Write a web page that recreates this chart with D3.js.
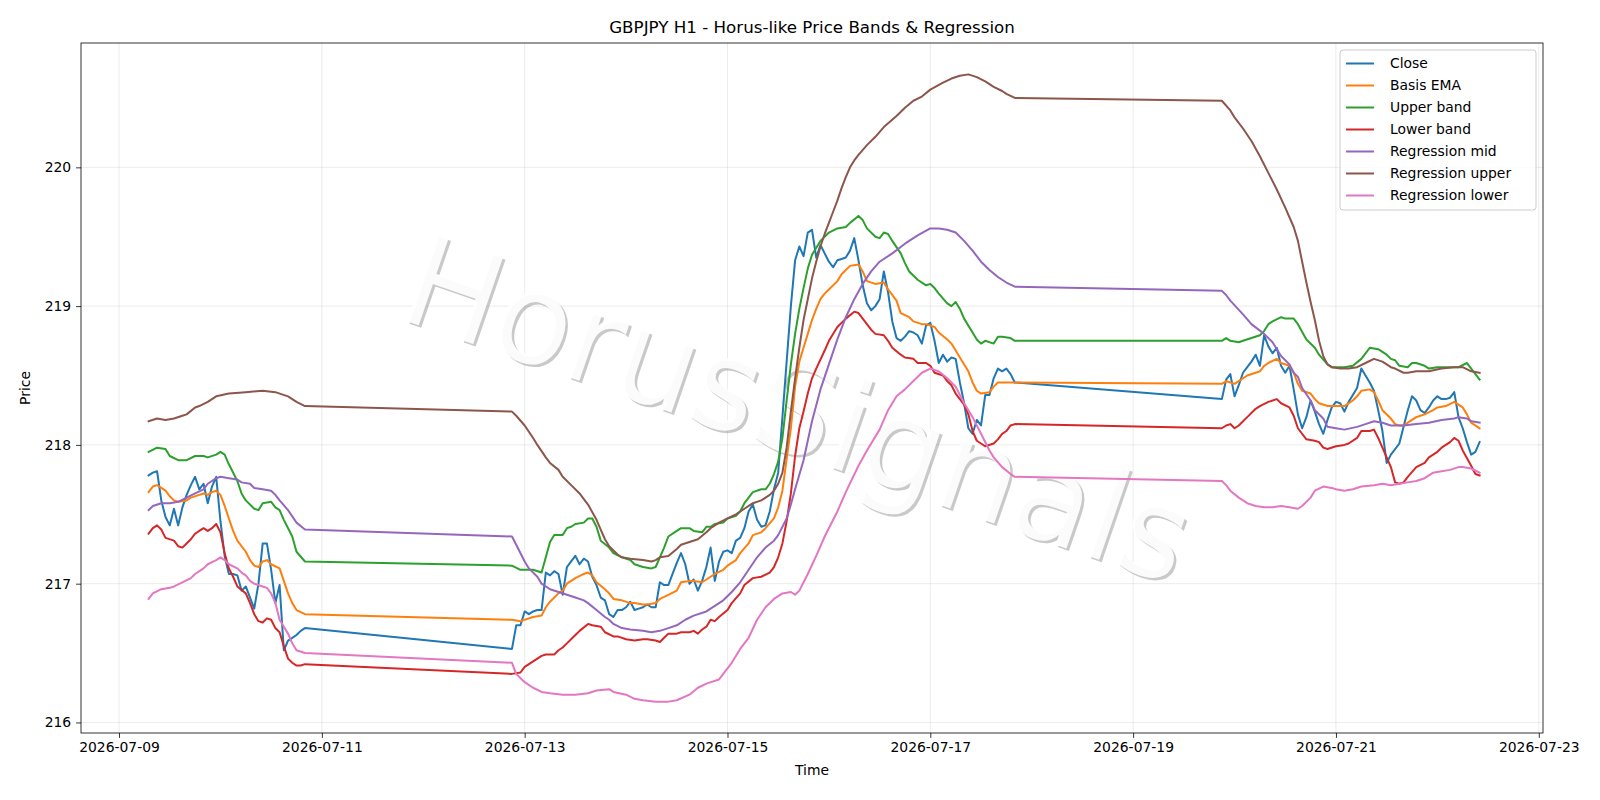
<!DOCTYPE html>
<html>
<head>
<meta charset="utf-8">
<script src="https://cdn.jsdelivr.net/npm/d3@7"></script>
<style>
body { margin: 0; background: #fff; }
svg { display: block; font-family: "DejaVu Sans", sans-serif; }
</style>
</head>
<body>
<svg width="1600" height="800"></svg>
<script>
var WIDTH = 1600;
var HEIGHT = 800;
var margin = {left: 81, right: 57, top: 43, bottom: 67};

// hours are counted from 2026-07-09 00:00
var baseDay = new Date(2026, 6, 9);

var closeStart = [7, 93, 261];
var closeSegs = [
    [217.78, 217.80, 217.81, 217.60, 217.48, 217.42, 217.54, 217.42, 217.55, 217.64,
     217.71, 217.77, 217.68, 217.72, 217.58, 217.70, 217.77, 217.45, 217.20, 217.07,
     217.07, 217.06, 216.95, 216.98, 216.90, 216.82, 217.00, 217.29, 217.29, 217.10,
     216.86, 216.99, 216.52, 216.59, 216.61, 216.63, 216.66, 216.68],
    [216.53, 216.70, 216.70, 216.80, 216.78, 216.80, 216.81, 216.81, 217.08, 217.06,
     217.09, 217.07, 216.92, 217.12, 217.16, 217.20, 217.14, 217.18, 217.16, 217.05,
     216.99, 216.90, 216.88, 216.78, 216.76, 216.81, 216.81, 216.83, 216.87, 216.81,
     216.82, 216.83, 216.85, 216.83, 216.83, 217.01, 216.99, 216.99, 217.07, 217.15,
     217.22, 217.14, 217.00, 217.03, 216.95, 217.02, 217.12, 217.26, 217.02, 217.16,
     217.23, 217.24, 217.22, 217.31, 217.33, 217.40, 217.52, 217.57, 217.46, 217.41,
     217.42, 217.52, 217.68, 217.80, 218.20, 218.60, 219.00, 219.33, 219.43, 219.36,
     219.53, 219.55, 219.35, 219.44, 219.38, 219.32, 219.28, 219.33, 219.34, 219.35,
     219.40, 219.49, 219.33, 219.15, 219.02, 218.97, 219.00, 219.05, 219.25, 219.10,
     218.89, 218.77, 218.75, 218.78, 218.82, 218.81, 218.79, 218.73, 218.86, 218.88,
     218.75, 218.59, 218.65, 218.60, 218.63, 218.62, 218.45, 218.30, 218.12, 218.08,
     218.18, 218.14, 218.36, 218.36, 218.48, 218.55, 218.53, 218.55, 218.51, 218.45],
    [218.33, 218.47, 218.51, 218.35, 218.43, 218.52, 218.56, 218.60, 218.65, 218.57,
     218.79, 218.71, 218.66, 218.70, 218.57, 218.52, 218.57, 218.40, 218.22, 218.12,
     218.20, 218.32, 218.24, 218.15, 218.08, 218.18, 218.27, 218.31, 218.30, 218.24,
     218.31, 218.36, 218.41, 218.55, 218.50, 218.45, 218.39, 218.25, 218.10, 217.87,
     217.93, 217.97, 218.01, 218.13, 218.25, 218.35, 218.32, 218.25, 218.23, 218.27,
     218.32, 218.35, 218.33, 218.33, 218.34, 218.38, 218.20, 218.12, 218.02, 217.93,
     217.95, 218.02]
];

var basisEma = [
    [7,217.66],[8,217.70],[9,217.71],[11,217.67],[12,217.63],[13,217.60],[14,217.59],[16,217.60],
    [17,217.62],[19,217.64],[20,217.65],[21,217.64],[22,217.66],[23,217.67],[24,217.64],[25,217.56],
    [26,217.47],[27,217.38],[28,217.31],[30,217.23],[31,217.17],[32,217.13],[33,217.12],[34,217.16],
    [35,217.17],[36,217.14],[38,217.11],[39,217.02],[40,216.93],[41,216.86],[42,216.81],[44,216.78],
    [93,216.74],[95,216.73],[98,216.76],[100,216.77],[101,216.83],[102,216.87],[104,216.93],[105,216.95],
    [106,217.00],[108,217.04],[110,217.07],[111,217.08],[112,217.06],[113,217.01],[115,216.96],[116,216.93],
    [117,216.89],[119,216.88],[121,216.86],[122,216.86],[124,216.85],[125,216.85],[127,216.86],[128,216.89],
    [130,216.92],[132,216.95],[133,217.01],[135,217.02],[136,217.02],[138,217.01],[140,217.05],[141,217.07],
    [143,217.10],[144,217.13],[146,217.17],[147,217.22],[149,217.29],[150,217.35],[152,217.37],[153,217.40],
    [155,217.47],[156,217.55],[157,217.67],[158,217.90],[159,218.12],[160,218.42],[161,218.60],[162,218.70],
    [163,218.80],[164,218.90],[165,218.98],[166,219.05],[167,219.09],[168,219.12],[170,219.18],[171,219.23],
    [173,219.29],[175,219.30],[176,219.25],[177,219.18],[179,219.16],[181,219.17],[182,219.12],[184,219.04],
    [185,218.95],[187,218.92],[188,218.89],[190,218.87],[191,218.87],[193,218.85],[194,218.81],[196,218.76],
    [197,218.73],[199,218.63],[201,218.53],[202,218.45],[203,218.39],[204,218.37],[206,218.38],[207,218.42],
    [208,218.45],[210,218.45],[212,218.45],
    [261,218.44],[262,218.46],[263,218.45],[264,218.44],[265,218.46],[267,218.50],[269,218.52],[270,218.53],
    [271,218.57],[272,218.59],[274,218.62],[275,218.59],[277,218.57],[278,218.52],[279,218.44],[280,218.39],
    [282,218.37],[283,218.33],[284,218.30],[286,218.28],[289,218.28],[290,218.28],[292,218.32],[293,218.35],
    [294,218.39],[296,218.40],[297,218.38],[298,218.32],[299,218.25],[301,218.19],[302,218.15],[303,218.14],
    [304,218.14],[305,218.16],[307,218.20],[308,218.21],[309,218.22],[311,218.25],[312,218.27],[314,218.28],
    [316,218.31],[317,218.29],[318,218.27],[319,218.22],[320,218.16],[322,218.12]
];

var upperBand = [
    [7,217.95],[9,217.98],[11,217.97],[12,217.92],[14,217.89],[16,217.89],[18,217.92],[20,217.92],
    [21,217.91],[23,217.93],[24,217.95],[25,217.93],[26,217.86],[28,217.74],[29,217.65],[30,217.60],
    [32,217.54],[33,217.53],[34,217.58],[36,217.59],[37,217.55],[38,217.53],[39,217.46],[41,217.34],
    [42,217.23],[44,217.16],
    [93,217.13],[95,217.10],[98,217.10],[100,217.08],[101,217.19],[102,217.30],[103,217.35],[105,217.35],
    [106,217.40],[107,217.41],[108,217.43],[110,217.44],[111,217.47],[112,217.47],[113,217.41],[114,217.31],
    [116,217.26],[117,217.22],[119,217.19],[121,217.17],[122,217.14],[124,217.12],[126,217.11],[127,217.12],
    [128,217.19],[129,217.26],[130,217.34],[132,217.38],[133,217.40],[135,217.40],[136,217.38],[138,217.37],
    [139,217.41],[140,217.41],[141,217.43],[143,217.44],[144,217.47],[146,217.49],[147,217.52],[148,217.58],
    [150,217.66],[152,217.68],[153,217.68],[154,217.72],[155,217.79],[156,217.88],[157,218.05],[158,218.32],
    [159,218.58],[160,218.80],[161,218.98],[162,219.13],[163,219.27],[164,219.37],[166,219.47],[168,219.53],
    [170,219.56],[172,219.57],[173,219.60],[175,219.65],[176,219.62],[177,219.56],[179,219.50],[180,219.49],
    [181,219.53],[182,219.52],[183,219.47],[185,219.38],[186,219.31],[187,219.25],[189,219.19],[191,219.15],
    [192,219.16],[193,219.13],[194,219.09],[196,219.02],[197,219.00],[198,219.03],[199,218.98],[200,218.91],
    [202,218.81],[203,218.76],[204,218.73],[205,218.75],[207,218.73],[208,218.78],[209,218.78],[211,218.77],
    [212,218.75],
    [261,218.75],[262,218.77],[263,218.75],[265,218.74],[266,218.75],[268,218.77],[270,218.79],[271,218.82],
    [272,218.87],[273,218.89],[275,218.92],[276,218.91],[278,218.91],[279,218.87],[281,218.76],[283,218.70],
    [284,218.65],[286,218.58],[287,218.56],[290,218.56],[292,218.57],[294,218.62],[295,218.66],[296,218.70],
    [298,218.69],[300,218.65],[301,218.62],[302,218.61],[303,218.57],[305,218.56],[306,218.59],[307,218.59],
    [309,218.57],[310,218.55],[312,218.56],[314,218.56],[317,218.56],[319,218.59],[320,218.55],[322,218.47]
];

var lowerBand = [
    [7,217.36],[8,217.40],[9,217.42],[10,217.39],[11,217.33],[13,217.31],[14,217.27],[15,217.26],
    [16,217.29],[17,217.32],[18,217.36],[19,217.38],[20,217.40],[21,217.38],[22,217.40],[23,217.43],
    [24,217.37],[25,217.22],[26,217.11],[27,217.05],[28,216.98],[30,216.93],[31,216.86],[32,216.78],
    [33,216.73],[34,216.72],[35,216.75],[36,216.74],[37,216.68],[38,216.65],[39,216.55],[40,216.46],
    [41,216.43],[42,216.41],[43,216.41],[44,216.42],
    [93,216.35],[95,216.36],[96,216.40],[98,216.44],[100,216.48],[101,216.49],[103,216.49],[104,216.52],
    [105,216.54],[106,216.57],[108,216.63],[109,216.66],[111,216.71],[112,216.70],[114,216.69],[115,216.65],
    [117,216.62],[118,216.62],[120,216.60],[122,216.59],[124,216.60],[125,216.60],[127,216.59],[128,216.58],
    [129,216.61],[130,216.64],[132,216.64],[133,216.65],[135,216.65],[136,216.66],[137,216.64],[138,216.67],
    [139,216.69],[140,216.74],[141,216.73],[142,216.76],[144,216.81],[145,216.86],[147,216.93],[148,216.99],
    [150,217.04],[152,217.05],[154,217.08],[155,217.12],[156,217.19],[157,217.29],[158,217.45],[159,217.65],
    [160,217.92],[161,218.12],[162,218.24],[163,218.37],[164,218.48],[165,218.55],[167,218.68],[168,218.75],
    [170,218.85],[172,218.91],[174,218.96],[175,218.95],[176,218.91],[178,218.83],[179,218.80],[181,218.79],
    [182,218.75],[183,218.70],[185,218.65],[186,218.63],[188,218.62],[189,218.59],[191,218.59],[192,218.57],
    [193,218.52],[195,218.50],[196,218.46],[197,218.43],[198,218.37],[200,218.29],[201,218.22],[202,218.10],
    [203,218.03],[204,218.01],[205,217.99],[207,218.01],[208,218.04],[209,218.08],[210,218.10],[211,218.14],
    [212,218.15],
    [261,218.12],[262,218.14],[263,218.15],[264,218.12],[265,218.14],[267,218.20],[269,218.26],[270,218.28],
    [272,218.31],[274,218.33],[275,218.30],[277,218.27],[278,218.21],[279,218.12],[281,218.04],[283,218.03],
    [284,218.02],[285,217.98],[286,217.97],[288,217.99],[290,218.00],[291,218.01],[293,218.05],[294,218.10],
    [296,218.10],[297,218.11],[298,218.05],[299,217.98],[301,217.84],[302,217.73],[303,217.72],[304,217.73],
    [305,217.77],[307,217.84],[309,217.87],[310,217.91],[312,217.95],[313,217.98],[315,218.02],[316,218.05],
    [317,218.03],[318,217.96],[320,217.85],[321,217.79],[322,217.78]
];

var regMid = [
    [7,217.53],[8,217.56],[10,217.58],[12,217.58],[14,217.59],[16,217.62],[18,217.65],[20,217.68],
    [21,217.72],[23,217.76],[24,217.77],[26,217.76],[28,217.75],[29,217.73],[31,217.72],[32,217.69],
    [34,217.68],[36,217.67],[37,217.64],[38,217.60],[40,217.53],[42,217.44],[44,217.39],
    [93,217.34],[94,217.28],[96,217.16],[97,217.11],[99,217.05],[100,217.00],[102,216.96],[104,216.94],
    [106,216.92],[108,216.90],[110,216.88],[111,216.86],[113,216.81],[115,216.76],[116,216.74],[117,216.71],
    [119,216.68],[121,216.67],[124,216.66],[126,216.65],[128,216.66],[130,216.68],[132,216.70],[134,216.74],
    [136,216.77],[139,216.80],[141,216.84],[143,216.88],[145,216.94],[147,217.01],[149,217.10],[151,217.19],
    [153,217.26],[155,217.31],[156,217.35],[158,217.47],[159,217.57],[160,217.68],[162,217.89],[164,218.17],
    [166,218.40],[168,218.58],[170,218.76],[172,218.92],[174,219.05],[176,219.16],[178,219.25],[180,219.32],
    [183,219.38],[186,219.45],[189,219.51],[192,219.56],[194,219.56],[196,219.55],[198,219.53],[200,219.47],
    [202,219.40],[204,219.32],[206,219.26],[208,219.21],[210,219.17],[212,219.14],
    [261,219.11],[262,219.08],[263,219.04],[266,218.94],[268,218.87],[271,218.80],[273,218.74],[275,218.64],
    [277,218.58],[278,218.52],[279,218.49],[280,218.41],[282,218.32],[283,218.25],[285,218.19],[286,218.13],
    [288,218.12],[290,218.11],[293,218.13],[295,218.15],[297,218.17],[299,218.16],[301,218.14],[304,218.14],
    [307,218.15],[310,218.16],[313,218.18],[316,218.19],[317,218.20],[319,218.19],[320,218.17],[322,218.16]
];

var regUpper = [
    [7,218.17],[9,218.19],[11,218.18],[13,218.19],[15,218.21],[16,218.22],[18,218.27],[19,218.28],
    [21,218.31],[23,218.35],[26,218.37],[30,218.38],[34,218.39],[37,218.38],[40,218.35],[42,218.31],
    [44,218.28],
    [93,218.24],[94,218.21],[96,218.14],[98,218.05],[99,218.00],[101,217.91],[102,217.87],[104,217.82],
    [105,217.77],[107,217.71],[109,217.65],[110,217.61],[111,217.57],[113,217.46],[114,217.39],[115,217.32],
    [116,217.27],[118,217.21],[119,217.19],[121,217.18],[124,217.17],[126,217.16],[127,217.17],[128,217.19],
    [130,217.20],[132,217.25],[133,217.28],[135,217.30],[137,217.32],[139,217.37],[140,217.40],[142,217.44],
    [144,217.47],[146,217.50],[148,217.54],[150,217.58],[152,217.60],[154,217.64],[155,217.67],[156,217.72],
    [157,217.80],[158,217.98],[159,218.24],[160,218.48],[161,218.70],[162,218.90],[163,219.05],[164,219.20],
    [165,219.32],[166,219.43],[167,219.52],[168,219.60],[169,219.68],[170,219.76],[171,219.85],[172,219.93],
    [173,220.00],[174,220.05],[175,220.09],[177,220.16],[179,220.22],[181,220.29],[184,220.37],[186,220.43],
    [188,220.48],[190,220.51],[192,220.56],[195,220.61],[197,220.64],[199,220.66],[201,220.67],[203,220.65],
    [205,220.62],[207,220.58],[209,220.55],[210,220.53],[212,220.50],
    [261,220.48],[263,220.41],[264,220.36],[266,220.28],[268,220.19],[270,220.08],[272,219.96],[274,219.84],
    [276,219.71],[278,219.57],[279,219.47],[280,219.32],[281,219.17],[282,219.03],[283,218.90],[284,218.75],
    [285,218.64],[286,218.58],[287,218.56],[289,218.55],[291,218.55],[293,218.56],[295,218.59],[297,218.62],
    [299,218.60],[301,218.56],[302,218.55],[304,218.52],[305,218.52],[307,218.53],[310,218.53],[313,218.55],
    [316,218.56],[318,218.56],[320,218.53],[322,218.52]
];

var regLower = [
    [7,216.89],[8,216.93],[10,216.96],[12,216.97],[13,216.98],[15,217.01],[17,217.04],[18,217.07],
    [20,217.11],[21,217.14],[23,217.17],[24,217.19],[25,217.17],[26,217.14],[28,217.11],[29,217.08],
    [30,217.06],[31,217.02],[32,217.00],[34,216.98],[35,216.97],[36,216.93],[37,216.86],[38,216.74],
    [40,216.64],[41,216.57],[42,216.52],[44,216.50],
    [93,216.43],[94,216.35],[96,216.29],[98,216.25],[100,216.22],[102,216.21],[105,216.20],[108,216.20],
    [111,216.21],[113,216.23],[116,216.24],[117,216.22],[120,216.20],[122,216.17],[124,216.16],[127,216.15],
    [130,216.15],[132,216.16],[135,216.20],[137,216.25],[139,216.28],[142,216.31],[143,216.35],[145,216.43],
    [147,216.53],[149,216.61],[151,216.74],[153,216.83],[155,216.89],[157,216.93],[159,216.94],[160,216.92],
    [161,216.95],[163,217.07],[165,217.20],[167,217.34],[170,217.52],[172,217.66],[175,217.85],[177,217.96],
    [180,218.11],[182,218.25],[184,218.35],[186,218.40],[188,218.46],[190,218.52],[192,218.55],[194,218.53],
    [196,218.48],[198,218.42],[200,218.30],[202,218.20],[204,218.08],[206,217.96],[207,217.91],[209,217.84],
    [211,217.79],[212,217.77],
    [261,217.74],[262,217.71],[263,217.67],[265,217.62],[267,217.58],[269,217.56],[271,217.55],[273,217.55],
    [275,217.56],[277,217.55],[279,217.54],[280,217.56],[282,217.62],[283,217.67],[285,217.70],[287,217.69],
    [288,217.68],[290,217.67],[292,217.68],[294,217.70],[297,217.71],[299,217.72],[301,217.71],[303,217.72],
    [305,217.73],[307,217.74],[309,217.76],[311,217.80],[313,217.81],[315,217.82],[317,217.84],[318,217.84],
    [320,217.83],[322,217.80]
];

var seriesNames = ['Close', 'Basis EMA', 'Upper band', 'Lower band', 'Regression mid', 'Regression upper', 'Regression lower'];
var seriesColors = ['#1f77b4', '#ff7f0e', '#2ca02c', '#d62728', '#9467bd', '#8c564b', '#e377c2'];
var xTickLabels = ['2026-07-09', '2026-07-11', '2026-07-13', '2026-07-15', '2026-07-17', '2026-07-19', '2026-07-21', '2026-07-23'];
var yTickValues = [216, 217, 218, 219, 220];

var toDate = function(h) {
    return d3.timeHour.offset(baseDay, h);
};

var closePts = [];
closeSegs.forEach(function(seg, s) {
    seg.forEach(function(v, i) {
        closePts.push([closeStart[s] + i, v]);
    });
});

var allSeries = [closePts, basisEma, upperBand, lowerBand, regMid, regUpper, regLower];

var svg = d3.select('svg');
var x0 = margin.left, x1 = WIDTH - margin.right;
var y0 = margin.top, y1 = HEIGHT - margin.bottom;

// matplotlib style 5% padding on both axes
var tExt = d3.extent(closePts, function(d) { return d[0]; });
var tPad = (tExt[1] - tExt[0]) * 0.05;
var xScale = d3.scaleTime()
    .domain([toDate(tExt[0] - tPad), toDate(tExt[1] + tPad)])
    .range([x0, x1]);

var allVals = [];
allSeries.forEach(function(s) { s.forEach(function(d) { allVals.push(d[1]); }); });
var vExt = d3.extent(allVals);
var vPad = (vExt[1] - vExt[0]) * 0.05;
var yScale = d3.scaleLinear()
    .domain([vExt[0] - vPad, vExt[1] + vPad])
    .range([y1, y0]);

var parseDay = d3.timeParse('%Y-%m-%d');
var xTicks = xTickLabels.map(parseDay);

// grid
var grid = svg.append('g');
grid.selectAll('.gx').data(xTicks).enter().append('line')
    .attr('x1', function(d) { return xScale(d); })
    .attr('x2', function(d) { return xScale(d); })
    .attr('y1', y0).attr('y2', y1)
    .attr('stroke', '#b0b0b0').attr('stroke-opacity', 0.3).attr('stroke-width', 0.8);
grid.selectAll('.gy').data(yTickValues).enter().append('line')
    .attr('x1', x0).attr('x2', x1)
    .attr('y1', function(d) { return yScale(d); })
    .attr('y2', function(d) { return yScale(d); })
    .attr('stroke', '#b0b0b0').attr('stroke-opacity', 0.3).attr('stroke-width', 0.8);

// watermark: white text over a soft grey drop shadow
var wmX = 798, wmY = 410, wmAngle = 19, wmSize = 126;
svg.append('text')
    .attr('transform', 'translate(' + (wmX + 2.5) + ',' + (wmY + 2.5) + ') rotate(' + wmAngle + ')')
    .attr('text-anchor', 'middle').attr('dominant-baseline', 'central')
    .attr('font-size', wmSize).attr('fill', '#888').attr('fill-opacity', 0.45)
    .text('HorusSignals');
svg.append('text')
    .attr('transform', 'translate(' + wmX + ',' + wmY + ') rotate(' + wmAngle + ')')
    .attr('text-anchor', 'middle').attr('dominant-baseline', 'central')
    .attr('font-size', wmSize).attr('fill', '#fff').attr('fill-opacity', 0.93)
    .text('HorusSignals');

svg.append('clipPath').attr('id', 'plotclip')
    .append('rect').attr('x', x0).attr('y', y0).attr('width', x1 - x0).attr('height', y1 - y0);

var line = d3.line()
    .x(function(d) { return xScale(toDate(d[0])); })
    .y(function(d) { return yScale(d[1]); });

svg.append('g').attr('clip-path', 'url(#plotclip)')
    .selectAll('path').data(allSeries).enter().append('path')
    .attr('d', line)
    .attr('fill', 'none')
    .attr('stroke', function(d, i) { return seriesColors[i]; })
    .attr('stroke-width', 2)
    .attr('stroke-linejoin', 'round')
    .attr('stroke-linecap', 'square');

// axes
var bottomAxis = d3.axisBottom(xScale)
    .tickValues(xTicks)
    .tickFormat(d3.timeFormat('%Y-%m-%d'))
    .tickSizeOuter(0).tickSize(4.9).tickPadding(4.4);
var gx = svg.append('g')
    .attr('transform', 'translate(0,' + y1 + ')')
    .call(bottomAxis);

var leftAxis = d3.axisLeft(yScale)
    .tickValues(yTickValues)
    .tickFormat(d3.format('d'))
    .tickSizeOuter(0).tickSize(4.9).tickPadding(4.9);
var gy = svg.append('g')
    .attr('transform', 'translate(' + x0 + ',0)')
    .call(leftAxis);

[gx, gy].forEach(function(g) {
    g.select('.domain').remove();
    g.selectAll('line').attr('stroke', '#000').attr('stroke-width', 0.8);
    g.selectAll('text').attr('font-size', 13.9).attr('font-family', '"DejaVu Sans", sans-serif').attr('fill', '#000');
});

svg.append('rect')
    .attr('x', x0).attr('y', y0).attr('width', x1 - x0).attr('height', y1 - y0)
    .attr('fill', 'none').attr('stroke', '#000').attr('stroke-width', 0.8);

// labels
svg.append('text')
    .attr('x', (x0 + x1) / 2).attr('y', 33)
    .attr('text-anchor', 'middle').attr('font-size', 16.7)
    .text('GBPJPY H1 - Horus-like Price Bands & Regression');
svg.append('text')
    .attr('x', (x0 + x1) / 2).attr('y', 775)
    .attr('text-anchor', 'middle').attr('font-size', 13.9)
    .text('Time');
svg.append('text')
    .attr('transform', 'translate(30,' + ((y0 + y1) / 2) + ') rotate(-90)')
    .attr('text-anchor', 'middle').attr('font-size', 13.9)
    .text('Price');

// legend
var legend = svg.append('g').attr('transform', 'translate(1340,50)');
legend.append('rect')
    .attr('width', 196).attr('height', 160).attr('rx', 3)
    .attr('fill', '#fff').attr('fill-opacity', 0.8)
    .attr('stroke', '#cccccc').attr('stroke-width', 1);
var rows = legend.selectAll('.row').data(seriesNames).enter().append('g')
    .attr('transform', function(d, i) { return 'translate(0,' + (13.5 + i * 22) + ')'; });
rows.append('line')
    .attr('x1', 6).attr('x2', 34)
    .attr('stroke', function(d, i) { return seriesColors[i]; })
    .attr('stroke-width', 2);
rows.append('text')
    .attr('x', 50).attr('dy', '0.35em')
    .attr('font-size', 13.9)
    .text(function(d) { return d; });
</script>
</body>
</html>
